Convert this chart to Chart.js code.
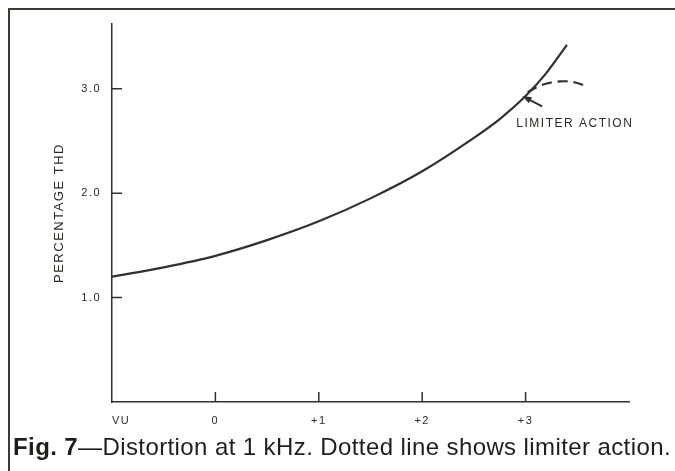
<!DOCTYPE html>
<html>
<head>
<meta charset="utf-8">
<script src="https://cdn.jsdelivr.net/npm/chart.js@4/dist/chart.umd.min.js"></script>
<style>
    html, body { margin: 0; padding: 0; background: #fff; }
    #wrap { position: relative; width: 675px; height: 471px; overflow: hidden; }
    #frame { position: absolute; left: 8px; top: 8px; width: 700px; height: 500px;
             border-top: 2px solid #3a3c30; border-left: 2px solid #3a3c30; }
    #myChart { position: absolute; left: 0; top: 0; }
    #caption { position: absolute; left: 13px; top: 435px; white-space: nowrap; letter-spacing: 0.4px;
               font: 24px "Liberation Sans", Arial, sans-serif; line-height: 24px; color: #1e1e1a; }
</style>
</head>
<body>
<div id="wrap">
    <div id="frame"></div>
    <canvas id="myChart" width="675" height="471"></canvas>
    <div id="caption"><b>Fig. 7</b>—Distortion at 1 kHz. Dotted line shows limiter action.</div>
</div>
<script>
// x = VU level, y = percentage THD
const vuSteps = [0, 1, 2, 3];
const vuLabels = ['0', '+1', '+2', '+3'];
const vuUnit = 'VU';
const thdTicks = [1, 2, 3];
const thdLabels = ['1.0', '2.0', '3.0'];

const curveVu = [-1, -0.5, 0, 0.5, 1, 1.5, 2, 2.5, 2.75, 3, 3.2, 3.4];
const curveThd = [1.20, 1.29, 1.40, 1.55, 1.73, 1.95, 2.21, 2.53, 2.71, 2.93, 3.15, 3.42];

// dotted limiter curve
const limiterVu = [3.02, 3.17, 3.33, 3.48, 3.60];
const limiterThd = [2.97, 3.04, 3.07, 3.06, 3.02];

// arrow (tail -> tip) and its label
const arrowVu = [3.16, 2.97];
const arrowThd = [2.83, 2.93];
const noteVu = 2.91;
const noteThd = 2.67;
const noteText = 'LIMITER ACTION';

const ink = '#2f312a';
const textInk = '#2a2a24';
const fontFamily = '"Liberation Sans", Arial, sans-serif';

const toPoints = (xs, ys) => xs.map((v, i) => ({x: v, y: ys[i]}));

// old typeset labels are spaced out a bit
const spacedText = {
    id: 'spacedText',
    beforeUpdate(chart) { chart.ctx.letterSpacing = '1.5px'; },
    beforeDraw(chart) { chart.ctx.letterSpacing = '1.5px'; }
};

// tick marks pointing into the plot
const innerTicks = {
    id: 'innerTicks',
    afterDatasetsDraw(chart) {
        const {ctx, scales: {x, y}} = chart;
        ctx.save();
        ctx.strokeStyle = ink;
        ctx.lineWidth = 1.5;
        ctx.beginPath();
        thdTicks.forEach(v => {
            const py = y.getPixelForValue(v);
            ctx.moveTo(x.left, py);
            ctx.lineTo(x.left + 10, py);
        });
        vuSteps.forEach(v => {
            const px = x.getPixelForValue(v);
            ctx.moveTo(px, y.bottom);
            ctx.lineTo(px, y.bottom - 10);
        });
        ctx.stroke();
        ctx.restore();
    }
};

const limiterNote = {
    id: 'limiterNote',
    afterDatasetsDraw(chart) {
        const {ctx, scales: {x, y}} = chart;
        const x0 = x.getPixelForValue(arrowVu[0]), y0 = y.getPixelForValue(arrowThd[0]);
        const x1 = x.getPixelForValue(arrowVu[1]), y1 = y.getPixelForValue(arrowThd[1]);
        const a = Math.atan2(y1 - y0, x1 - x0);
        const c = Math.cos(a), s = Math.sin(a);
        ctx.save();
        ctx.strokeStyle = ink;
        ctx.fillStyle = ink;
        ctx.lineWidth = 2;
        ctx.beginPath();
        ctx.moveTo(x0, y0);
        ctx.lineTo(x1 - 6 * c, y1 - 6 * s);
        ctx.stroke();
        ctx.beginPath();
        ctx.moveTo(x1, y1);
        ctx.lineTo(x1 - 9 * c + 3.5 * s, y1 - 9 * s - 3.5 * c);
        ctx.lineTo(x1 - 9 * c - 3.5 * s, y1 - 9 * s + 3.5 * c);
        ctx.closePath();
        ctx.fill();
        ctx.fillStyle = textInk;
        ctx.font = '12px ' + fontFamily;
        ctx.textBaseline = 'middle';
        ctx.textAlign = 'left';
        ctx.fillText(noteText, x.getPixelForValue(noteVu), y.getPixelForValue(noteThd));
        ctx.restore();
    }
};

const ctx = document.getElementById('myChart').getContext('2d');

const chart = new Chart(ctx, {
    type: 'scatter',
    data: {
        datasets: [{
            data: toPoints(curveVu, curveThd),
            showLine: true,
            borderColor: ink,
            borderWidth: 2.2,
            pointRadius: 0,
            cubicInterpolationMode: 'monotone'
        }, {
            data: toPoints(limiterVu, limiterThd),
            showLine: true,
            borderColor: ink,
            borderWidth: 2.2,
            borderDash: [10, 6],
            pointRadius: 0,
            tension: 0.4
        }]
    },
    options: {
        responsive: false,
        animation: false,
        layout: {padding: {top: 24, right: 46, left: 0, bottom: 0}},
        plugins: {
            legend: {display: false},
            tooltip: {enabled: false}
        },
        scales: {
            x: {
                type: 'linear',
                min: -1,
                max: 4,
                afterBuildTicks: s => { s.ticks = vuSteps.map(v => ({value: v})); },
                afterFit: s => { s.height = 69; },
                ticks: {
                    padding: 12,
                    color: textInk,
                    font: {family: fontFamily, size: 11},
                    callback: v => vuLabels[vuSteps.indexOf(v)]
                },
                grid: {display: false, drawTicks: false},
                border: {display: true, color: ink, width: 1.5},
                title: {
                    display: true,
                    text: vuUnit,
                    align: 'start',
                    color: textInk,
                    font: {family: fontFamily, size: 11},
                    padding: {top: 0, bottom: 43}
                }
            },
            y: {
                min: 0,
                max: 3.62,
                afterBuildTicks: s => { s.ticks = thdTicks.map(v => ({value: v})); },
                afterFit: s => { s.width = 112; },
                ticks: {
                    padding: 11,
                    color: textInk,
                    font: {family: fontFamily, size: 11},
                    callback: v => thdLabels[thdTicks.indexOf(v)]
                },
                grid: {display: false, drawTicks: false},
                border: {display: true, color: ink, width: 1.5},
                title: {
                    display: true,
                    text: 'PERCENTAGE THD',
                    color: textInk,
                    font: {family: fontFamily, size: 13},
                    padding: {top: 52, bottom: 0}
                }
            }
        }
    },
    plugins: [spacedText, innerTicks, limiterNote]
});
</script>
</body>
</html>
